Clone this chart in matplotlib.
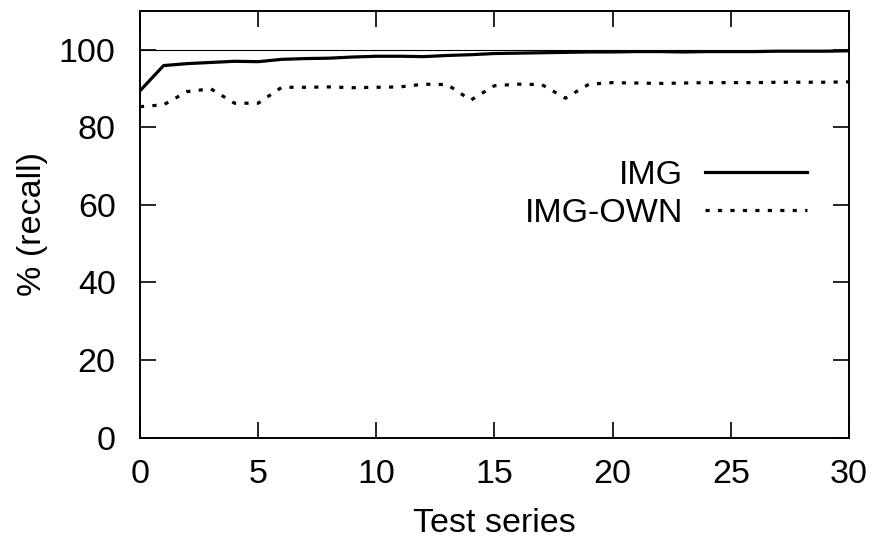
import matplotlib.pyplot as plt
import numpy as np

plt.rcParams['font.family'] = ['Liberation Sans', 'DejaVu Sans']

# Test series index
series = np.arange(0, 31)

# Recall (%) per test series
img_recall = [89.4, 95.9, 96.4, 96.7, 97.0, 96.9, 97.5, 97.7, 97.8, 98.1,
              98.3, 98.3, 98.2, 98.5, 98.7, 99.0, 99.1, 99.2, 99.3, 99.4,
              99.4, 99.5, 99.5, 99.4, 99.5, 99.5, 99.5, 99.6, 99.6, 99.6, 99.7]
img_own_recall = [85.3, 85.8, 89.2, 89.9, 86.2, 86.2, 90.3, 90.3, 90.4, 90.2,
                  90.3, 90.4, 91.1, 91.0, 87.0, 90.7, 91.1, 91.0, 87.5, 91.1,
                  91.5, 91.4, 91.3, 91.4, 91.5, 91.5, 91.5, 91.6, 91.6, 91.6, 91.7]

fs = 24.5

fig = plt.figure(figsize=(8.77, 5.42), dpi=100)
ax = fig.add_axes([0.1596, 0.1924, 0.8084, 0.7876])

# reference line at 100 %
ax.axhline(100, color='black', linewidth=0.8)

ax.plot(series, img_recall, color='black', linewidth=2.3, label='IMG')
ax.plot(series, img_own_recall, color='black', linewidth=2.3,
        linestyle=(0, (1.3, 2.6)), dash_capstyle='butt', label='IMG-OWN')

ax.set_xlim(0, 30)
ax.set_ylim(0, 110)
ax.set_xticks(np.arange(0, 31, 5))
ax.set_yticks(np.arange(0, 101, 20))
ax.tick_params(direction='in', length=11.5, width=1.2, top=True, right=True,
               labelsize=fs)
ax.tick_params(axis='x', pad=15)
ax.tick_params(axis='y', pad=17.5)
for sp in ax.spines.values():
    sp.set_linewidth(1.4)

ax.set_xlabel('Test series', fontsize=fs, labelpad=13)
ax.set_ylabel('% (recall)', fontsize=fs, labelpad=8)

ax.legend(loc='center right', bbox_to_anchor=(0.941, 0.57), frameon=False,
          markerfirst=False, fontsize=fs, handlelength=3.0, handletextpad=0.65,
          labelspacing=0.22, borderpad=0, borderaxespad=0)

fig.savefig('out.png', dpi=100)
